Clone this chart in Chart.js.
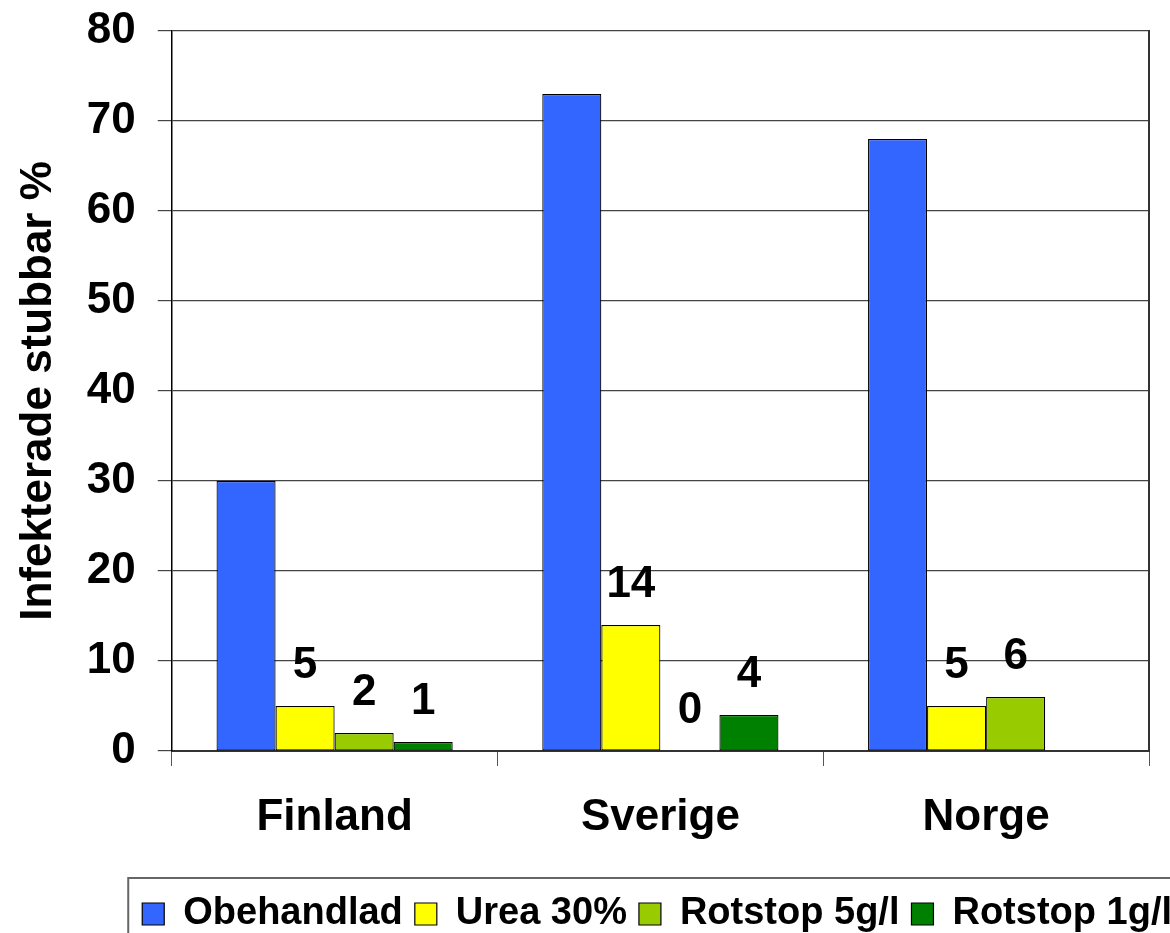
<!DOCTYPE html>
<html>
<head>
<meta charset="utf-8">
<script src="https://cdn.jsdelivr.net/npm/chart.js@4.4.0/dist/chart.umd.min.js"></script>
<style>
  html, body { margin: 0; padding: 0; background: #fff; }
  #wrap { width: 1170px; height: 933px; }
</style>
</head>
<body>
<div id="wrap"><canvas id="chart"></canvas></div>
<script>
const countries = ["Finland", "Sverige", "Norge"];
const seriesNames = ["Obehandlad", "Urea 30%", "Rotstop 5g/l", "Rotstop 1g/l"];
const obehandlad = [30, 73, 68];
const urea30 = [5, 14, 5];
const rotstop5 = [2, 0, 6];
const rotstop1 = [1, 4, null];
const yMin = 0, yMax = 80, yStep = 10;
const barColors = ["#3366ff", "#ffff00", "#99cc00", "#008000"];

const FONT = "'Liberation Sans', Arial, sans-serif";

// value labels above the treated series (not Obehandlad)
const valueLabels = {
  id: "valueLabels",
  afterDatasetsDraw(chart) {
    const ctx = chart.ctx;
    ctx.save();
    ctx.font = "bold 44px " + FONT;
    ctx.fillStyle = "#000";
    ctx.textAlign = "center";
    ctx.textBaseline = "alphabetic";
    chart.data.datasets.forEach((ds, i) => {
      if (i === 0) return;
      chart.getDatasetMeta(i).data.forEach((bar, j) => {
        const v = ds.data[j];
        if (v === null || v === undefined) return;
        ctx.fillText(String(v), bar.x, bar.y - 28);
      });
    });
    ctx.restore();
  }
};

// frame round the legend, like the original
const legendFrame = {
  id: "legendFrame",
  afterDraw(chart) {
    const boxes = chart.legend.legendHitBoxes;
    if (!boxes || !boxes.length) return;
    const ctx = chart.ctx;
    ctx.save();
    ctx.strokeStyle = "#666";
    ctx.lineWidth = 2;
    ctx.strokeRect(boxes[0].left - 14, boxes[0].top - 17, chart.width, 200);
    ctx.restore();
  }
};

const seriesData = [obehandlad, urea30, rotstop5, rotstop1];

new Chart(document.getElementById("chart"), {
  type: "bar",
  data: {
    labels: countries,
    datasets: seriesNames.map((name, i) => ({
      label: name,
      data: seriesData[i],
      backgroundColor: barColors[i],
      borderColor: "#000",
      borderWidth: 1.2,
      borderSkipped: false,
      categoryPercentage: 0.725,
      barPercentage: 1.0
    }))
  },
  options: {
    responsive: true,
    maintainAspectRatio: false,
    animation: false,
    layout: { padding: { top: 31, right: -14, left: 12, bottom: -10 } },
    plugins: {
      legend: {
        position: "bottom",
        align: "end",
        title: { display: true, text: "", font: { size: 1 }, padding: { top: 13, bottom: 0 } },
        labels: {
          font: { family: FONT, size: 38, weight: "bold" },
          color: "#000",
          boxWidth: 22,
          boxHeight: 22,
          padding: 12
        }
      },
      tooltip: { enabled: false }
    },
    scales: {
      x: {
        grid: {
          offset: true,
          drawOnChartArea: false,
          drawTicks: true,
          tickLength: 15,
          color: "#555"
        },
        border: { color: "#333", width: 2 },
        ticks: {
          font: { family: FONT, size: 44, weight: "bold" },
          color: "#000",
          padding: 25
        }
      },
      y: {
        min: yMin,
        max: yMax,
        ticks: {
          stepSize: yStep,
          font: { family: FONT, size: 44, weight: "bold", lineHeight: 0.2 },
          color: "#000",
          padding: 22
        },
        grid: { color: "#444", lineWidth: 1.2, tickLength: 14 },
        border: { color: "#000", width: 1.5 },
        title: {
          display: true,
          text: "Infekterade stubbar %",
          font: { family: FONT, size: 44, weight: "bold" },
          color: "#000",
          padding: { top: 0, bottom: 0 }
        }
      },
      yRight: {
        position: "right",
        min: yMin,
        max: yMax,
        ticks: { display: false },
        grid: { display: false, drawTicks: false },
        border: { display: true, color: "#333", width: 2 },
        afterFit(axis) { axis.width = 35; }
      }
    }
  },
  plugins: [valueLabels, legendFrame]
});
</script>
</body>
</html>
